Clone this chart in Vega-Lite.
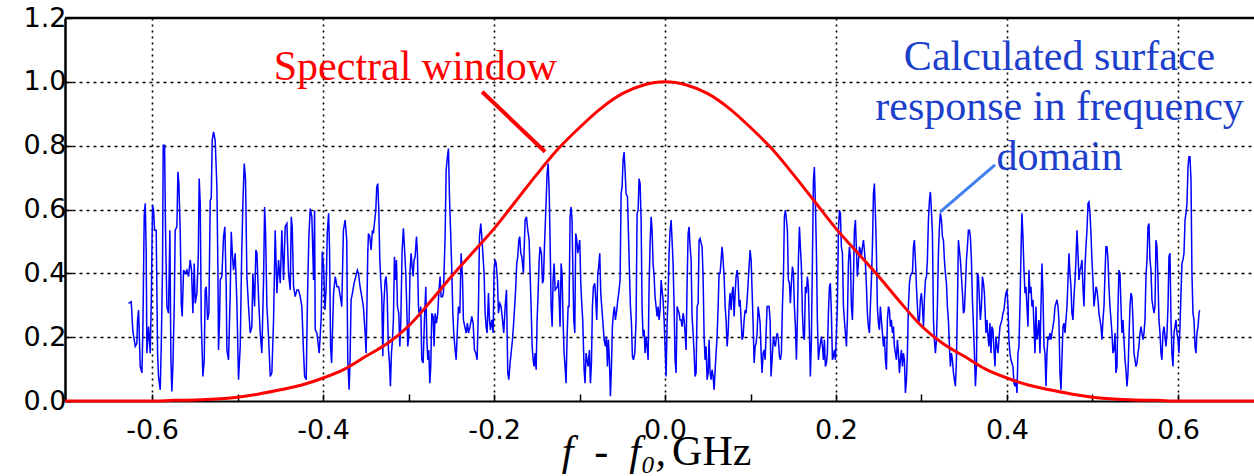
{
"$schema": "https://vega.github.io/schema/vega-lite/v6.json",
"width": 1189, "height": 383,
"autosize": {"type": "none"},
"padding": {"left": 65, "top": 18, "right": 0, "bottom": 75},
"background": "white",
"config": {"view": {"stroke": null}},
"datasets": {
"spectrum": [
{"f":-0.6277,"v":0.306},{"f":-0.6245,"v":0.311},{"f":-0.6226,"v":0.218},{"f":-0.6198,"v":0.171},{"f":-0.6179,"v":0.181},{"f":-0.6171,"v":0.254},{"f":-0.6159,"v":0.285},{"f":-0.6140,"v":0.108},{"f":-0.6120,"v":0.088},{"f":-0.6109,"v":0.223},{"f":-0.6093,"v":0.582},{"f":-0.6081,"v":0.619},{"f":-0.6070,"v":0.463},{"f":-0.6062,"v":0.150},{"f":-0.6042,"v":0.233},{"f":-0.6023,"v":0.150},{"f":-0.6011,"v":0.306},{"f":-0.5996,"v":0.614},{"f":-0.5984,"v":0.598},{"f":-0.5972,"v":0.535},{"f":-0.5953,"v":0.535},{"f":-0.5937,"v":0.150},{"f":-0.5926,"v":0.077},{"f":-0.5906,"v":0.035},{"f":-0.5894,"v":0.171},{"f":-0.5879,"v":0.421},{"f":-0.5871,"v":0.801},{"f":-0.5855,"v":0.801},{"f":-0.5844,"v":0.535},{"f":-0.5828,"v":0.296},{"f":-0.5809,"v":0.275},{"f":-0.5793,"v":0.535},{"f":-0.5781,"v":0.129},{"f":-0.5770,"v":0.030},{"f":-0.5758,"v":0.108},{"f":-0.5742,"v":0.296},{"f":-0.5731,"v":0.535},{"f":-0.5711,"v":0.546},{"f":-0.5699,"v":0.718},{"f":-0.5688,"v":0.681},{"f":-0.5672,"v":0.535},{"f":-0.5660,"v":0.306},{"f":-0.5649,"v":0.265},{"f":-0.5633,"v":0.410},{"f":-0.5614,"v":0.400},{"f":-0.5594,"v":0.410},{"f":-0.5575,"v":0.390},{"f":-0.5555,"v":0.442},{"f":-0.5540,"v":0.410},{"f":-0.5524,"v":0.275},{"f":-0.5508,"v":0.431},{"f":-0.5497,"v":0.306},{"f":-0.5477,"v":0.338},{"f":-0.5461,"v":0.452},{"f":-0.5450,"v":0.697},{"f":-0.5438,"v":0.619},{"f":-0.5426,"v":0.254},{"f":-0.5407,"v":0.077},{"f":-0.5391,"v":0.129},{"f":-0.5380,"v":0.348},{"f":-0.5368,"v":0.358},{"f":-0.5352,"v":0.254},{"f":-0.5337,"v":0.275},{"f":-0.5321,"v":0.629},{"f":-0.5309,"v":0.634},{"f":-0.5298,"v":0.817},{"f":-0.5282,"v":0.843},{"f":-0.5263,"v":0.817},{"f":-0.5243,"v":0.671},{"f":-0.5231,"v":0.410},{"f":-0.5224,"v":0.160},{"f":-0.5212,"v":0.254},{"f":-0.5204,"v":0.379},{"f":-0.5185,"v":0.390},{"f":-0.5165,"v":0.515},{"f":-0.5150,"v":0.546},{"f":-0.5134,"v":0.358},{"f":-0.5126,"v":0.160},{"f":-0.5107,"v":0.129},{"f":-0.5087,"v":0.338},{"f":-0.5075,"v":0.530},{"f":-0.5060,"v":0.452},{"f":-0.5048,"v":0.410},{"f":-0.5029,"v":0.463},{"f":-0.5009,"v":0.306},{"f":-0.4990,"v":0.067},{"f":-0.4970,"v":0.171},{"f":-0.4954,"v":0.442},{"f":-0.4939,"v":0.619},{"f":-0.4923,"v":0.744},{"f":-0.4908,"v":0.692},{"f":-0.4892,"v":0.390},{"f":-0.4873,"v":0.296},{"f":-0.4853,"v":0.213},{"f":-0.4834,"v":0.233},{"f":-0.4822,"v":0.400},{"f":-0.4802,"v":0.296},{"f":-0.4787,"v":0.473},{"f":-0.4775,"v":0.463},{"f":-0.4756,"v":0.327},{"f":-0.4736,"v":0.213},{"f":-0.4717,"v":0.150},{"f":-0.4697,"v":0.379},{"f":-0.4685,"v":0.608},{"f":-0.4674,"v":0.535},{"f":-0.4658,"v":0.296},{"f":-0.4639,"v":0.202},{"f":-0.4619,"v":0.077},{"f":-0.4600,"v":0.088},{"f":-0.4580,"v":0.254},{"f":-0.4561,"v":0.535},{"f":-0.4541,"v":0.338},{"f":-0.4522,"v":0.442},{"f":-0.4502,"v":0.369},{"f":-0.4483,"v":0.535},{"f":-0.4463,"v":0.379},{"f":-0.4444,"v":0.546},{"f":-0.4424,"v":0.556},{"f":-0.4405,"v":0.400},{"f":-0.4385,"v":0.348},{"f":-0.4373,"v":0.577},{"f":-0.4362,"v":0.546},{"f":-0.4346,"v":0.358},{"f":-0.4327,"v":0.327},{"f":-0.4307,"v":0.348},{"f":-0.4288,"v":0.348},{"f":-0.4268,"v":0.327},{"f":-0.4249,"v":0.296},{"f":-0.4229,"v":0.150},{"f":-0.4217,"v":0.077},{"f":-0.4198,"v":0.067},{"f":-0.4182,"v":0.338},{"f":-0.4167,"v":0.515},{"f":-0.4151,"v":0.603},{"f":-0.4132,"v":0.577},{"f":-0.4112,"v":0.379},{"f":-0.4100,"v":0.598},{"f":-0.4093,"v":0.223},{"f":-0.4073,"v":0.213},{"f":-0.4046,"v":0.150},{"f":-0.4022,"v":0.265},{"f":-0.4010,"v":0.468},{"f":-0.3995,"v":0.421},{"f":-0.3979,"v":0.285},{"f":-0.3964,"v":0.358},{"f":-0.3952,"v":0.525},{"f":-0.3936,"v":0.588},{"f":-0.3925,"v":0.473},{"f":-0.3913,"v":0.171},{"f":-0.3901,"v":0.119},{"f":-0.3878,"v":0.338},{"f":-0.3858,"v":0.390},{"f":-0.3838,"v":0.358},{"f":-0.3819,"v":0.358},{"f":-0.3799,"v":0.327},
{"f":-0.3782,"v":0.296},{"f":-0.3763,"v":0.535},{"f":-0.3743,"v":0.567},{"f":-0.3724,"v":0.504},{"f":-0.3712,"v":0.129},{"f":-0.3696,"v":0.035},{"f":-0.3685,"v":0.129},{"f":-0.3673,"v":0.317},{"f":-0.3657,"v":0.338},{"f":-0.3638,"v":0.369},{"f":-0.3618,"v":0.390},{"f":-0.3599,"v":0.410},{"f":-0.3587,"v":0.400},{"f":-0.3568,"v":0.358},{"f":-0.3548,"v":0.327},{"f":-0.3529,"v":0.296},{"f":-0.3509,"v":0.213},{"f":-0.3497,"v":0.150},{"f":-0.3486,"v":0.327},{"f":-0.3478,"v":0.463},{"f":-0.3470,"v":0.525},{"f":-0.3454,"v":0.515},{"f":-0.3439,"v":0.473},{"f":-0.3423,"v":0.535},{"f":-0.3412,"v":0.525},{"f":-0.3396,"v":0.567},{"f":-0.3384,"v":0.598},{"f":-0.3373,"v":0.671},{"f":-0.3361,"v":0.681},{"f":-0.3349,"v":0.598},{"f":-0.3337,"v":0.442},{"f":-0.3326,"v":0.379},{"f":-0.3314,"v":0.327},{"f":-0.3302,"v":0.140},{"f":-0.3291,"v":0.296},{"f":-0.3275,"v":0.379},{"f":-0.3263,"v":0.390},{"f":-0.3252,"v":0.338},{"f":-0.3236,"v":0.160},{"f":-0.3224,"v":0.119},{"f":-0.3213,"v":0.046},{"f":-0.3201,"v":0.150},{"f":-0.3189,"v":0.192},{"f":-0.3178,"v":0.254},{"f":-0.3166,"v":0.452},{"f":-0.3154,"v":0.379},{"f":-0.3142,"v":0.442},{"f":-0.3131,"v":0.296},{"f":-0.3115,"v":0.275},{"f":-0.3103,"v":0.171},{"f":-0.3092,"v":0.244},{"f":-0.3076,"v":0.473},{"f":-0.3061,"v":0.541},{"f":-0.3049,"v":0.483},{"f":-0.3033,"v":0.400},{"f":-0.3022,"v":0.296},{"f":-0.3010,"v":0.171},{"f":-0.2998,"v":0.202},{"f":-0.2983,"v":0.410},{"f":-0.2971,"v":0.463},{"f":-0.2959,"v":0.421},{"f":-0.2947,"v":0.390},{"f":-0.2936,"v":0.442},{"f":-0.2924,"v":0.452},{"f":-0.2908,"v":0.515},{"f":-0.2897,"v":0.463},{"f":-0.2885,"v":0.296},{"f":-0.2873,"v":0.265},{"f":-0.2858,"v":0.296},{"f":-0.2846,"v":0.129},{"f":-0.2830,"v":0.119},{"f":-0.2815,"v":0.254},{"f":-0.2799,"v":0.358},{"f":-0.2788,"v":0.202},{"f":-0.2776,"v":0.129},{"f":-0.2764,"v":0.160},{"f":-0.2752,"v":0.056},{"f":-0.2741,"v":0.108},{"f":-0.2729,"v":0.275},{"f":-0.2713,"v":0.265},{"f":-0.2702,"v":0.171},{"f":-0.2690,"v":0.275},{"f":-0.2674,"v":0.244},{"f":-0.2659,"v":0.275},{"f":-0.2647,"v":0.338},{"f":-0.2632,"v":0.390},{"f":-0.2620,"v":0.327},{"f":-0.2604,"v":0.327},{"f":-0.2593,"v":0.338},{"f":-0.2573,"v":0.515},{"f":-0.2561,"v":0.723},{"f":-0.2546,"v":0.765},{"f":-0.2534,"v":0.791},{"f":-0.2522,"v":0.640},{"f":-0.2507,"v":0.515},{"f":-0.2495,"v":0.410},{"f":-0.2483,"v":0.275},{"f":-0.2472,"v":0.213},{"f":-0.2456,"v":0.160},{"f":-0.2444,"v":0.129},{"f":-0.2433,"v":0.202},{"f":-0.2417,"v":0.296},{"f":-0.2401,"v":0.275},{"f":-0.2386,"v":0.463},{"f":-0.2370,"v":0.390},{"f":-0.2359,"v":0.254},{"f":-0.2343,"v":0.233},{"f":-0.2327,"v":0.213},{"f":-0.2312,"v":0.244},{"f":-0.2300,"v":0.213},{"f":-0.2281,"v":0.233},{"f":-0.2261,"v":0.265},{"f":-0.2245,"v":0.244},{"f":-0.2230,"v":0.160},{"f":-0.2214,"v":0.150},{"f":-0.2199,"v":0.129},{"f":-0.2183,"v":0.296},{"f":-0.2171,"v":0.515},{"f":-0.2156,"v":0.556},{"f":-0.2144,"v":0.515},{"f":-0.2132,"v":0.463},{"f":-0.2117,"v":0.400},{"f":-0.2105,"v":0.275},{"f":-0.2093,"v":0.233},{"f":-0.2082,"v":0.213},{"f":-0.2066,"v":0.338},{"f":-0.2054,"v":0.254},{"f":-0.2043,"v":0.223},{"f":-0.2027,"v":0.254},{"f":-0.2011,"v":0.213},{"f":-0.2000,"v":0.410},{"f":-0.1988,"v":0.442},{"f":-0.1976,"v":0.431},{"f":-0.1961,"v":0.379},{"f":-0.1949,"v":0.275},{"f":-0.1933,"v":0.306},{"f":-0.1918,"v":0.296},{"f":-0.1902,"v":0.254},{"f":-0.1887,"v":0.213},{"f":-0.1871,"v":0.296},{"f":-0.1855,"v":0.348},{"f":-0.1840,"v":0.088},{"f":-0.1828,"v":0.067},{"f":-0.1813,"v":0.119},{"f":-0.1801,"v":0.150},{"f":-0.1785,"v":0.192},{"f":-0.1774,"v":0.233},{"f":-0.1762,"v":0.285},{"f":-0.1750,"v":0.338},{"f":-0.1735,"v":0.431},{"f":-0.1723,"v":0.452},{"f":-0.1711,"v":0.504},{"f":-0.1700,"v":0.515},{"f":-0.1688,"v":0.463},{"f":-0.1676,"v":0.452},{"f":-0.1657,"v":0.400},{"f":-0.1637,"v":0.567},{"f":-0.1621,"v":0.577},{"f":-0.1606,"v":0.535},{"f":-0.1590,"v":0.504},{"f":-0.1579,"v":0.400},{"f":-0.1567,"v":0.296},{"f":-0.1555,"v":0.171},{"f":-0.1543,"v":0.129},{"f":-0.1532,"v":0.108},{"f":-0.1520,"v":0.150},{"f":-0.1508,"v":0.098},{"f":-0.1497,"v":0.254},{"f":-0.1485,"v":0.338},{"f":-0.1473,"v":0.442},{"f":-0.1462,"v":0.483},{"f":-0.1446,"v":0.463},{"f":-0.1434,"v":0.369},{"f":-0.1423,"v":0.379},{"f":-0.1411,"v":0.483},{"f":-0.1395,"v":0.598},{"f":-0.1380,"v":0.713},{"f":-0.1368,"v":0.744},{"f":-0.1356,"v":0.660},{"f":-0.1345,"v":0.504},{"f":-0.1333,"v":0.296},{"f":-0.1321,"v":0.233},{"f":-0.1310,"v":0.379},{"f":-0.1298,"v":0.431},{"f":-0.1286,"v":0.348},
{"f":-0.1259,"v":0.358},{"f":-0.1248,"v":0.379},{"f":-0.1236,"v":0.296},{"f":-0.1228,"v":0.233},{"f":-0.1216,"v":0.431},{"f":-0.1205,"v":0.400},{"f":-0.1193,"v":0.254},{"f":-0.1181,"v":0.150},{"f":-0.1170,"v":0.108},{"f":-0.1158,"v":0.056},{"f":-0.1146,"v":0.202},{"f":-0.1134,"v":0.296},{"f":-0.1123,"v":0.296},{"f":-0.1111,"v":0.577},{"f":-0.1099,"v":0.608},{"f":-0.1088,"v":0.567},{"f":-0.1080,"v":0.431},{"f":-0.1068,"v":0.254},{"f":-0.1056,"v":0.213},{"f":-0.1045,"v":0.525},{"f":-0.1033,"v":0.504},{"f":-0.1021,"v":0.463},{"f":-0.1010,"v":0.483},{"f":-0.0998,"v":0.504},{"f":-0.0986,"v":0.369},{"f":-0.0975,"v":0.306},{"f":-0.0963,"v":0.254},{"f":-0.0947,"v":0.098},{"f":-0.0936,"v":0.056},{"f":-0.0924,"v":0.150},{"f":-0.0912,"v":0.129},{"f":-0.0900,"v":0.108},{"f":-0.0885,"v":0.160},{"f":-0.0873,"v":0.056},{"f":-0.0861,"v":0.119},{"f":-0.0850,"v":0.296},{"f":-0.0838,"v":0.358},{"f":-0.0822,"v":0.369},{"f":-0.0811,"v":0.317},{"f":-0.0799,"v":0.254},{"f":-0.0787,"v":0.400},{"f":-0.0776,"v":0.421},{"f":-0.0764,"v":0.463},{"f":-0.0752,"v":0.338},{"f":-0.0741,"v":0.296},{"f":-0.0729,"v":0.254},{"f":-0.0713,"v":0.192},{"f":-0.0698,"v":0.171},{"f":-0.0686,"v":0.202},{"f":-0.0674,"v":0.108},{"f":-0.0663,"v":0.192},{"f":-0.0651,"v":0.129},{"f":-0.0639,"v":0.015},{"f":-0.0627,"v":0.108},{"f":-0.0616,"v":0.233},{"f":-0.0604,"v":0.275},{"f":-0.0592,"v":0.296},{"f":-0.0581,"v":0.254},{"f":-0.0565,"v":0.285},{"f":-0.0553,"v":0.317},{"f":-0.0542,"v":0.338},{"f":-0.0526,"v":0.379},{"f":-0.0514,"v":0.650},{"f":-0.0503,"v":0.671},{"f":-0.0491,"v":0.754},{"f":-0.0479,"v":0.780},{"f":-0.0468,"v":0.723},{"f":-0.0456,"v":0.650},{"f":-0.0440,"v":0.640},{"f":-0.0429,"v":0.535},{"f":-0.0417,"v":0.410},{"f":-0.0405,"v":0.296},{"f":-0.0393,"v":0.244},{"f":-0.0382,"v":0.140},{"f":-0.0370,"v":0.129},{"f":-0.0354,"v":0.150},{"f":-0.0339,"v":0.254},{"f":-0.0327,"v":0.588},{"f":-0.0315,"v":0.598},{"f":-0.0304,"v":0.697},{"f":-0.0292,"v":0.681},{"f":-0.0280,"v":0.567},{"f":-0.0269,"v":0.296},{"f":-0.0257,"v":0.202},{"f":-0.0245,"v":0.223},{"f":-0.0234,"v":0.150},{"f":-0.0222,"v":0.202},{"f":-0.0210,"v":0.171},{"f":-0.0198,"v":0.129},{"f":-0.0187,"v":0.358},{"f":-0.0175,"v":0.494},{"f":-0.0163,"v":0.577},{"f":-0.0152,"v":0.535},{"f":-0.0140,"v":0.431},{"f":-0.0128,"v":0.390},{"f":-0.0117,"v":0.327},{"f":-0.0105,"v":0.296},{"f":-0.0093,"v":0.265},{"f":-0.0081,"v":0.296},{"f":-0.0070,"v":0.254},{"f":-0.0058,"v":0.285},{"f":-0.0046,"v":0.379},{"f":-0.0035,"v":0.348},{"f":-0.0023,"v":0.317},{"f":-0.0011,"v":0.254},{"f":0.0000,"v":0.171},{"f":0.0012,"v":0.077},{"f":0.0024,"v":0.244},{"f":0.0036,"v":0.327},{"f":0.0047,"v":0.463},{"f":0.0059,"v":0.535},{"f":0.0071,"v":0.567},{"f":0.0082,"v":0.504},{"f":0.0094,"v":0.431},{"f":0.0106,"v":0.296},{"f":0.0117,"v":0.129},{"f":0.0129,"v":0.088},{"f":0.0141,"v":0.296},{"f":0.0153,"v":0.285},{"f":0.0164,"v":0.275},{"f":0.0176,"v":0.254},{"f":0.0188,"v":0.254},{"f":0.0199,"v":0.233},{"f":0.0211,"v":0.275},{"f":0.0223,"v":0.254},{"f":0.0234,"v":0.213},{"f":0.0246,"v":0.160},{"f":0.0258,"v":0.369},{"f":0.0270,"v":0.525},{"f":0.0281,"v":0.546},{"f":0.0293,"v":0.483},{"f":0.0305,"v":0.442},{"f":0.0316,"v":0.265},{"f":0.0328,"v":0.213},{"f":0.0340,"v":0.150},{"f":0.0351,"v":0.077},{"f":0.0363,"v":0.088},{"f":0.0375,"v":0.296},{"f":0.0387,"v":0.306},{"f":0.0398,"v":0.504},{"f":0.0410,"v":0.509},{"f":0.0422,"v":0.494},{"f":0.0433,"v":0.483},{"f":0.0445,"v":0.390},{"f":0.0457,"v":0.202},{"f":0.0468,"v":0.129},{"f":0.0480,"v":0.171},{"f":0.0492,"v":0.067},{"f":0.0504,"v":0.088},{"f":0.0515,"v":0.192},{"f":0.0527,"v":0.088},{"f":0.0539,"v":0.067},{"f":0.0550,"v":0.098},{"f":0.0562,"v":0.077},{"f":0.0574,"v":0.035},{"f":0.0586,"v":0.098},{"f":0.0597,"v":0.150},{"f":0.0609,"v":0.202},{"f":0.0621,"v":0.296},{"f":0.0632,"v":0.400},{"f":0.0644,"v":0.400},{"f":0.0656,"v":0.442},{"f":0.0667,"v":0.483},{"f":0.0679,"v":0.442},{"f":0.0691,"v":0.390},{"f":0.0703,"v":0.296},{"f":0.0714,"v":0.254},{"f":0.0726,"v":0.171},{"f":0.0738,"v":0.213},{"f":0.0749,"v":0.296},{"f":0.0761,"v":0.338},{"f":0.0773,"v":0.285},{"f":0.0784,"v":0.338},{"f":0.0796,"v":0.358},{"f":0.0808,"v":0.265},{"f":0.0820,"v":0.338},{"f":0.0831,"v":0.390},{"f":0.0843,"v":0.410},{"f":0.0855,"v":0.379},{"f":0.0866,"v":0.296},{"f":0.0878,"v":0.317},{"f":0.0890,"v":0.254},{"f":0.0901,"v":0.192},{"f":0.0913,"v":0.202},{"f":0.0925,"v":0.254},{"f":0.0937,"v":0.285},{"f":0.0948,"v":0.275},{"f":0.0960,"v":0.317},{"f":0.0972,"v":0.369},{"f":0.0983,"v":0.421},{"f":0.0995,"v":0.473},{"f":0.1007,"v":0.442},{"f":0.1018,"v":0.348},{"f":0.1030,"v":0.244},{"f":0.1042,"v":0.119},{"f":0.1054,"v":0.171},{"f":0.1065,"v":0.181},{"f":0.1077,"v":0.213},{"f":0.1089,"v":0.296},{"f":0.1100,"v":0.275},{"f":0.1112,"v":0.244},{"f":0.1124,"v":0.150},{"f":0.1135,"v":0.088},{"f":0.1147,"v":0.150},{"f":0.1159,"v":0.160},{"f":0.1171,"v":0.129},{"f":0.1182,"v":0.213},{"f":0.1194,"v":0.296},{"f":0.1206,"v":0.296},{"f":0.1217,"v":0.296},{"f":0.1229,"v":0.254},
{"f":0.1240,"v":0.077},{"f":0.1252,"v":0.129},{"f":0.1268,"v":0.202},{"f":0.1279,"v":0.181},{"f":0.1291,"v":0.171},{"f":0.1303,"v":0.202},{"f":0.1314,"v":0.213},{"f":0.1326,"v":0.192},{"f":0.1338,"v":0.140},{"f":0.1349,"v":0.129},{"f":0.1361,"v":0.150},{"f":0.1373,"v":0.296},{"f":0.1385,"v":0.390},{"f":0.1396,"v":0.577},{"f":0.1408,"v":0.598},{"f":0.1420,"v":0.567},{"f":0.1431,"v":0.535},{"f":0.1443,"v":0.379},{"f":0.1455,"v":0.369},{"f":0.1466,"v":0.306},{"f":0.1478,"v":0.369},{"f":0.1490,"v":0.421},{"f":0.1502,"v":0.400},{"f":0.1513,"v":0.296},{"f":0.1525,"v":0.233},{"f":0.1537,"v":0.129},{"f":0.1548,"v":0.254},{"f":0.1560,"v":0.442},{"f":0.1572,"v":0.546},{"f":0.1583,"v":0.483},{"f":0.1595,"v":0.421},{"f":0.1607,"v":0.275},{"f":0.1619,"v":0.202},{"f":0.1630,"v":0.192},{"f":0.1642,"v":0.358},{"f":0.1654,"v":0.338},{"f":0.1665,"v":0.390},{"f":0.1677,"v":0.358},{"f":0.1689,"v":0.213},{"f":0.1700,"v":0.077},{"f":0.1712,"v":0.192},{"f":0.1724,"v":0.442},{"f":0.1736,"v":0.692},{"f":0.1747,"v":0.733},{"f":0.1759,"v":0.619},{"f":0.1771,"v":0.463},{"f":0.1782,"v":0.254},{"f":0.1794,"v":0.129},{"f":0.1806,"v":0.160},{"f":0.1817,"v":0.181},{"f":0.1829,"v":0.202},{"f":0.1841,"v":0.171},{"f":0.1853,"v":0.129},{"f":0.1864,"v":0.192},{"f":0.1876,"v":0.108},{"f":0.1888,"v":0.119},{"f":0.1899,"v":0.150},{"f":0.1911,"v":0.275},{"f":0.1923,"v":0.358},{"f":0.1934,"v":0.369},{"f":0.1946,"v":0.275},{"f":0.1958,"v":0.129},{"f":0.1970,"v":0.140},{"f":0.1981,"v":0.160},{"f":0.1993,"v":0.129},{"f":0.2005,"v":0.213},{"f":0.2016,"v":0.296},{"f":0.2028,"v":0.535},{"f":0.2040,"v":0.598},{"f":0.2051,"v":0.588},{"f":0.2063,"v":0.483},{"f":0.2075,"v":0.463},{"f":0.2087,"v":0.296},{"f":0.2098,"v":0.254},{"f":0.2110,"v":0.213},{"f":0.2122,"v":0.171},{"f":0.2133,"v":0.254},{"f":0.2145,"v":0.431},{"f":0.2157,"v":0.483},{"f":0.2168,"v":0.452},{"f":0.2180,"v":0.296},{"f":0.2192,"v":0.254},{"f":0.2204,"v":0.379},{"f":0.2215,"v":0.535},{"f":0.2227,"v":0.567},{"f":0.2239,"v":0.473},{"f":0.2250,"v":0.390},{"f":0.2262,"v":0.431},{"f":0.2274,"v":0.483},{"f":0.2285,"v":0.473},{"f":0.2297,"v":0.452},{"f":0.2309,"v":0.483},{"f":0.2321,"v":0.504},{"f":0.2332,"v":0.473},{"f":0.2344,"v":0.431},{"f":0.2356,"v":0.358},{"f":0.2367,"v":0.275},{"f":0.2379,"v":0.233},{"f":0.2391,"v":0.213},{"f":0.2402,"v":0.296},{"f":0.2414,"v":0.379},{"f":0.2426,"v":0.483},{"f":0.2438,"v":0.650},{"f":0.2449,"v":0.681},{"f":0.2461,"v":0.588},{"f":0.2473,"v":0.463},{"f":0.2484,"v":0.296},{"f":0.2496,"v":0.244},{"f":0.2508,"v":0.223},{"f":0.2519,"v":0.296},{"f":0.2531,"v":0.254},{"f":0.2543,"v":0.213},{"f":0.2555,"v":0.171},{"f":0.2566,"v":0.202},{"f":0.2578,"v":0.129},{"f":0.2590,"v":0.098},{"f":0.2601,"v":0.254},{"f":0.2613,"v":0.296},{"f":0.2625,"v":0.285},{"f":0.2636,"v":0.233},{"f":0.2648,"v":0.254},{"f":0.2660,"v":0.213},{"f":0.2672,"v":0.233},{"f":0.2683,"v":0.171},{"f":0.2695,"v":0.150},{"f":0.2707,"v":0.129},{"f":0.2718,"v":0.192},{"f":0.2730,"v":0.150},{"f":0.2742,"v":0.088},{"f":0.2753,"v":0.129},{"f":0.2765,"v":0.160},{"f":0.2777,"v":0.108},{"f":0.2789,"v":0.150},{"f":0.2800,"v":0.129},{"f":0.2812,"v":0.025},{"f":0.2824,"v":0.067},{"f":0.2835,"v":0.150},{"f":0.2847,"v":0.296},{"f":0.2859,"v":0.369},{"f":0.2870,"v":0.390},{"f":0.2882,"v":0.400},{"f":0.2894,"v":0.400},{"f":0.2906,"v":0.483},{"f":0.2917,"v":0.504},{"f":0.2929,"v":0.442},{"f":0.2941,"v":0.358},{"f":0.2952,"v":0.296},{"f":0.2964,"v":0.244},{"f":0.2976,"v":0.254},{"f":0.2987,"v":0.317},{"f":0.2999,"v":0.338},{"f":0.3011,"v":0.296},{"f":0.3023,"v":0.233},{"f":0.3034,"v":0.317},{"f":0.3046,"v":0.379},{"f":0.3058,"v":0.390},{"f":0.3069,"v":0.442},{"f":0.3081,"v":0.567},{"f":0.3093,"v":0.629},{"f":0.3104,"v":0.655},{"f":0.3116,"v":0.598},{"f":0.3128,"v":0.525},{"f":0.3140,"v":0.254},{"f":0.3151,"v":0.192},{"f":0.3163,"v":0.150},{"f":0.3175,"v":0.192},{"f":0.3186,"v":0.296},{"f":0.3198,"v":0.463},{"f":0.3210,"v":0.546},{"f":0.3221,"v":0.588},{"f":0.3233,"v":0.567},{"f":0.3245,"v":0.515},{"f":0.3257,"v":0.504},{"f":0.3268,"v":0.442},{"f":0.3280,"v":0.400},{"f":0.3292,"v":0.369},{"f":0.3303,"v":0.296},{"f":0.3315,"v":0.254},{"f":0.3327,"v":0.171},{"f":0.3338,"v":0.108},{"f":0.3350,"v":0.150},{"f":0.3362,"v":0.129},{"f":0.3374,"v":0.088},{"f":0.3385,"v":0.067},{"f":0.3397,"v":0.046},{"f":0.3409,"v":0.129},{"f":0.3420,"v":0.296},{"f":0.3432,"v":0.504},{"f":0.3444,"v":0.473},{"f":0.3455,"v":0.442},{"f":0.3467,"v":0.390},{"f":0.3479,"v":0.338},{"f":0.3491,"v":0.275},{"f":0.3502,"v":0.285},{"f":0.3514,"v":0.358},{"f":0.3526,"v":0.442},{"f":0.3537,"v":0.483},{"f":0.3549,"v":0.535},{"f":0.3561,"v":0.535},{"f":0.3572,"v":0.515},{"f":0.3584,"v":0.442},{"f":0.3596,"v":0.317},{"f":0.3608,"v":0.233},{"f":0.3619,"v":0.150},{"f":0.3631,"v":0.046},{"f":0.3643,"v":0.108},{"f":0.3654,"v":0.400},{"f":0.3666,"v":0.390},{"f":0.3678,"v":0.317},{"f":0.3689,"v":0.254},{"f":0.3701,"v":0.296},{"f":0.3713,"v":0.390},{"f":0.3725,"v":0.369},{"f":0.3736,"v":0.338},
{"f":0.3754,"v":0.213},{"f":0.3766,"v":0.254},{"f":0.3778,"v":0.202},{"f":0.3789,"v":0.171},{"f":0.3801,"v":0.244},{"f":0.3813,"v":0.150},{"f":0.3824,"v":0.233},{"f":0.3836,"v":0.223},{"f":0.3848,"v":0.160},{"f":0.3860,"v":0.108},{"f":0.3871,"v":0.202},{"f":0.3883,"v":0.171},{"f":0.3895,"v":0.150},{"f":0.3906,"v":0.192},{"f":0.3918,"v":0.233},{"f":0.3930,"v":0.244},{"f":0.3941,"v":0.254},{"f":0.3953,"v":0.275},{"f":0.3965,"v":0.285},{"f":0.3977,"v":0.317},{"f":0.3988,"v":0.338},{"f":0.4000,"v":0.348},{"f":0.4012,"v":0.296},{"f":0.4023,"v":0.192},{"f":0.4035,"v":0.150},{"f":0.4047,"v":0.129},{"f":0.4058,"v":0.119},{"f":0.4070,"v":0.108},{"f":0.4082,"v":0.056},{"f":0.4094,"v":0.046},{"f":0.4105,"v":0.067},{"f":0.4117,"v":0.025},{"f":0.4129,"v":0.150},{"f":0.4140,"v":0.171},{"f":0.4152,"v":0.296},{"f":0.4164,"v":0.463},{"f":0.4175,"v":0.588},{"f":0.4187,"v":0.515},{"f":0.4199,"v":0.410},{"f":0.4211,"v":0.338},{"f":0.4222,"v":0.358},{"f":0.4234,"v":0.296},{"f":0.4246,"v":0.233},{"f":0.4257,"v":0.410},{"f":0.4269,"v":0.338},{"f":0.4281,"v":0.358},{"f":0.4292,"v":0.296},{"f":0.4304,"v":0.317},{"f":0.4316,"v":0.233},{"f":0.4328,"v":0.150},{"f":0.4339,"v":0.296},{"f":0.4351,"v":0.192},{"f":0.4363,"v":0.213},{"f":0.4374,"v":0.254},{"f":0.4386,"v":0.150},{"f":0.4398,"v":0.296},{"f":0.4409,"v":0.431},{"f":0.4421,"v":0.338},{"f":0.4433,"v":0.171},{"f":0.4445,"v":0.150},{"f":0.4456,"v":0.046},{"f":0.4468,"v":0.150},{"f":0.4480,"v":0.202},{"f":0.4491,"v":0.192},{"f":0.4503,"v":0.213},{"f":0.4515,"v":0.192},{"f":0.4526,"v":0.213},{"f":0.4538,"v":0.233},{"f":0.4550,"v":0.254},{"f":0.4562,"v":0.296},{"f":0.4573,"v":0.306},{"f":0.4585,"v":0.317},{"f":0.4597,"v":0.296},{"f":0.4608,"v":0.254},{"f":0.4620,"v":0.088},{"f":0.4632,"v":0.035},{"f":0.4643,"v":0.129},{"f":0.4655,"v":0.233},{"f":0.4667,"v":0.244},{"f":0.4679,"v":0.213},{"f":0.4690,"v":0.254},{"f":0.4702,"v":0.296},{"f":0.4714,"v":0.379},{"f":0.4725,"v":0.463},{"f":0.4737,"v":0.400},{"f":0.4749,"v":0.358},{"f":0.4760,"v":0.275},{"f":0.4772,"v":0.254},{"f":0.4784,"v":0.327},{"f":0.4796,"v":0.379},{"f":0.4807,"v":0.442},{"f":0.4819,"v":0.535},{"f":0.4831,"v":0.463},{"f":0.4842,"v":0.379},{"f":0.4854,"v":0.410},{"f":0.4866,"v":0.421},{"f":0.4877,"v":0.442},{"f":0.4889,"v":0.358},{"f":0.4901,"v":0.296},{"f":0.4913,"v":0.421},{"f":0.4924,"v":0.483},{"f":0.4936,"v":0.535},{"f":0.4948,"v":0.619},{"f":0.4959,"v":0.624},{"f":0.4971,"v":0.588},{"f":0.4983,"v":0.525},{"f":0.4994,"v":0.442},{"f":0.5006,"v":0.379},{"f":0.5018,"v":0.296},{"f":0.5030,"v":0.327},{"f":0.5041,"v":0.358},{"f":0.5053,"v":0.348},{"f":0.5065,"v":0.317},{"f":0.5076,"v":0.275},{"f":0.5088,"v":0.254},{"f":0.5100,"v":0.233},{"f":0.5111,"v":0.192},{"f":0.5123,"v":0.254},{"f":0.5135,"v":0.296},{"f":0.5147,"v":0.400},{"f":0.5158,"v":0.483},{"f":0.5170,"v":0.483},{"f":0.5182,"v":0.442},{"f":0.5193,"v":0.358},{"f":0.5205,"v":0.296},{"f":0.5217,"v":0.254},{"f":0.5228,"v":0.213},{"f":0.5240,"v":0.150},{"f":0.5252,"v":0.160},{"f":0.5264,"v":0.213},{"f":0.5275,"v":0.088},{"f":0.5287,"v":0.108},{"f":0.5299,"v":0.296},{"f":0.5310,"v":0.410},{"f":0.5322,"v":0.400},{"f":0.5334,"v":0.296},{"f":0.5345,"v":0.213},{"f":0.5357,"v":0.254},{"f":0.5369,"v":0.192},{"f":0.5381,"v":0.129},{"f":0.5392,"v":0.098},{"f":0.5404,"v":0.046},{"f":0.5416,"v":0.088},{"f":0.5427,"v":0.192},{"f":0.5439,"v":0.296},{"f":0.5451,"v":0.338},{"f":0.5462,"v":0.327},{"f":0.5474,"v":0.254},{"f":0.5486,"v":0.150},{"f":0.5498,"v":0.129},{"f":0.5509,"v":0.108},{"f":0.5521,"v":0.119},{"f":0.5533,"v":0.150},{"f":0.5544,"v":0.171},{"f":0.5556,"v":0.213},{"f":0.5568,"v":0.233},{"f":0.5579,"v":0.213},{"f":0.5591,"v":0.192},{"f":0.5603,"v":0.213},{"f":0.5615,"v":0.254},{"f":0.5626,"v":0.390},{"f":0.5638,"v":0.442},{"f":0.5650,"v":0.546},{"f":0.5661,"v":0.556},{"f":0.5673,"v":0.442},{"f":0.5685,"v":0.410},{"f":0.5696,"v":0.317},{"f":0.5708,"v":0.296},{"f":0.5720,"v":0.275},{"f":0.5732,"v":0.296},{"f":0.5743,"v":0.504},{"f":0.5755,"v":0.483},{"f":0.5767,"v":0.379},{"f":0.5778,"v":0.254},{"f":0.5790,"v":0.213},{"f":0.5802,"v":0.150},{"f":0.5813,"v":0.129},{"f":0.5825,"v":0.213},{"f":0.5837,"v":0.233},{"f":0.5849,"v":0.202},{"f":0.5860,"v":0.171},{"f":0.5872,"v":0.213},{"f":0.5884,"v":0.296},{"f":0.5895,"v":0.452},{"f":0.5907,"v":0.463},{"f":0.5919,"v":0.254},{"f":0.5930,"v":0.150},{"f":0.5942,"v":0.108},{"f":0.5954,"v":0.213},{"f":0.5966,"v":0.233},{"f":0.5977,"v":0.254},{"f":0.5989,"v":0.213},{"f":0.6001,"v":0.192},{"f":0.6012,"v":0.150},{"f":0.6024,"v":0.233},{"f":0.6036,"v":0.338},{"f":0.6047,"v":0.431},{"f":0.6059,"v":0.442},{"f":0.6071,"v":0.463},{"f":0.6083,"v":0.567},{"f":0.6094,"v":0.588},{"f":0.6106,"v":0.619},{"f":0.6118,"v":0.733},{"f":0.6129,"v":0.765},{"f":0.6141,"v":0.765},{"f":0.6153,"v":0.692},{"f":0.6164,"v":0.400},{"f":0.6176,"v":0.275},{"f":0.6188,"v":0.254},{"f":0.6200,"v":0.171},{"f":0.6211,"v":0.150},{"f":0.6223,"v":0.213},{"f":0.6235,"v":0.233},{"f":0.6247,"v":0.275},{"f":0.6254,"v":0.285}
],
"window": [
{"f":-0.702,"v":0},{"f":-0.65,"v":0},{"f":-0.6,"v":0},{"f":-0.575,"v":0.002},{"f":-0.55,"v":0.003},{"f":-0.525,"v":0.006},{"f":-0.5,"v":0.012},{"f":-0.475,"v":0.022},{"f":-0.45,"v":0.035},{"f":-0.425,"v":0.05},{"f":-0.4,"v":0.072},{"f":-0.375,"v":0.1},{"f":-0.35,"v":0.14},{"f":-0.325,"v":0.18},{"f":-0.3,"v":0.235},{"f":-0.275,"v":0.31},{"f":-0.25,"v":0.39},{"f":-0.225,"v":0.465},{"f":-0.2,"v":0.54},{"f":-0.175,"v":0.625},{"f":-0.15,"v":0.71},{"f":-0.125,"v":0.79},{"f":-0.1,"v":0.857},{"f":-0.075,"v":0.917},{"f":-0.05,"v":0.963},{"f":-0.025,"v":0.99},{"f":0,"v":1.0},{"f":0.025,"v":0.99},{"f":0.05,"v":0.963},{"f":0.075,"v":0.917},{"f":0.1,"v":0.857},{"f":0.125,"v":0.79},{"f":0.15,"v":0.71},{"f":0.175,"v":0.625},{"f":0.2,"v":0.54},{"f":0.225,"v":0.465},{"f":0.25,"v":0.39},{"f":0.275,"v":0.31},{"f":0.3,"v":0.235},{"f":0.325,"v":0.18},{"f":0.35,"v":0.14},{"f":0.375,"v":0.1},{"f":0.4,"v":0.072},{"f":0.425,"v":0.05},{"f":0.45,"v":0.035},{"f":0.475,"v":0.022},{"f":0.5,"v":0.012},{"f":0.525,"v":0.006},{"f":0.55,"v":0.003},{"f":0.575,"v":0.002},{"f":0.6,"v":0},{"f":0.65,"v":0},{"f":0.689,"v":0}
]
},
"layer": [
{
"data": {"name": "spectrum"},
"mark": {"type": "line", "color": "#0000ff", "strokeWidth": 1.5},
"encoding": {
"x": {"field": "f", "type": "quantitative",
 "scale": {"domain": [-0.702, 0.689], "nice": false, "zero": false},
 "axis": {"values": [-0.6,-0.5,-0.4,-0.3,-0.2,-0.1,0,0.1,0.2,0.3,0.4,0.5,0.6],
  "labelExpr": "abs(round(datum.value*10)) % 2 == 0 ? replace(format(datum.value, '.1f'), '\u2212', '-') : ''",
  "labelFont": "DejaVu Sans", "labelFontSize": 27, "labelColor": "black", "labelPadding": 23,
  "tickSize": -7, "tickColor": "black", "tickWidth": 1.5,
  "domainColor": "black", "domainWidth": 2,
  "grid": true, "gridColor": "black", "gridDash": [2, 4], "gridWidth": 1.6,
  "gridOpacity": {"condition": {"test": "abs(round(datum.value*10)) % 2 == 0", "value": 1}, "value": 0},
  "title": null}},
"y": {"field": "v", "type": "quantitative",
 "scale": {"domain": [0, 1.2], "nice": false, "zero": false},
 "axis": {"values": [0,0.1,0.2,0.3,0.4,0.5,0.6,0.7,0.8,0.9,1.0,1.1,1.2],
  "labelExpr": "abs(round(datum.value*10)) % 2 == 0 ? format(datum.value, '.1f') : ''",
  "labelFont": "DejaVu Sans", "labelFontSize": 27, "labelColor": "black", "labelPadding": 6,
  "tickSize": -7, "tickColor": "black", "tickWidth": 1.5,
  "domainColor": "black", "domainWidth": 2.5,
  "grid": true, "gridColor": "black", "gridDash": [3, 4], "gridWidth": 1.6,
  "gridOpacity": {"condition": {"test": "abs(round(datum.value*10)) % 2 == 0 && datum.value > 0.05 && datum.value < 1.15", "value": 1}, "value": 0},
  "title": null}}
}
},
{
"data": {"name": "window"},
"mark": {"type": "line", "color": "#ff0000", "strokeWidth": 3, "interpolate": "monotone"},
"encoding": {
"x": {"field": "f", "type": "quantitative"},
"y": {"field": "v", "type": "quantitative"}
}
},
{
"data": {"values": [{}]},
"mark": {"type": "rule", "color": "black", "strokeWidth": 2.5},
"encoding": {"y": {"datum": 1.2}}
},
{
"data": {"values": [{}]},
"mark": {"type": "rule", "color": "#ff0000", "strokeWidth": 4},
"encoding": {"x": {"datum": -0.214}, "y": {"datum": 0.969}, "x2": {"datum": -0.1404}, "y2": {"datum": 0.781}}
},
{
"data": {"values": [{}]},
"mark": {"type": "rule", "color": "#3f7fef", "strokeWidth": 3},
"encoding": {"x": {"datum": 0.386}, "y": {"datum": 0.74}, "x2": {"datum": 0.3216}, "y2": {"datum": 0.592}}
},
{
"data": {"values": [{}]},
"mark": {"type": "text", "text": "Spectral window", "font": "Liberation Serif", "fontSize": 42, "color": "#ff0000", "align": "center", "baseline": "alphabetic"},
"encoding": {"x": {"datum": -0.292}, "y": {"datum": 1.006}}
},
{
"data": {"values": [{}]},
"mark": {"type": "text", "text": ["Calculated surface", "response in frequency", "domain"], "lineHeight": 50, "font": "Liberation Serif", "fontSize": 42, "color": "#1c3fcc", "align": "center", "baseline": "alphabetic"},
"encoding": {"x": {"datum": 0.4615}, "y": {"datum": 1.038}}
},
{
"data": {"values": [{}]},
"mark": {"type": "text", "text": "f\u2002-\u2002f\u2080,", "font": "Liberation Serif", "fontSize": 42, "fontStyle": "italic", "color": "black", "align": "right", "baseline": "alphabetic"},
"encoding": {"x": {"datum": 0.0012}, "y": {"datum": -0.2}}
},
{
"data": {"values": [{}]},
"mark": {"type": "text", "text": "GHz", "font": "Liberation Serif", "fontSize": 42, "color": "black", "align": "left", "baseline": "alphabetic"},
"encoding": {"x": {"datum": 0.0082}, "y": {"datum": -0.2}}
}
]
}
